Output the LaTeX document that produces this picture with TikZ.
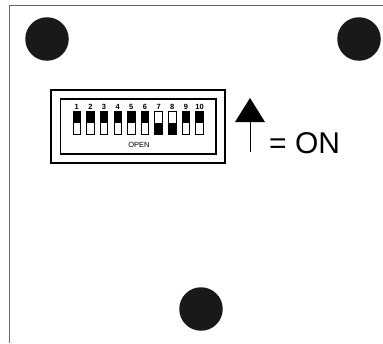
\documentclass[tikz,border=0pt]{standalone}
\usepackage{fontspec}
\setmainfont{Liberation Sans}
\tikzset{
  hole/.style={circle, fill=black!90, minimum size=43.5pt, inner sep=0pt},
  swbody/.style={rectangle, draw, thick, fill=white, minimum width=7.5pt, minimum height=23pt, inner sep=0pt},
  swnum/.style={font=\fontsize{7.5}{8}\selectfont\bfseries, inner sep=0pt},
}
\begin{document}
\begin{tikzpicture}[x=1pt, y=-1pt]
      \useasboundingbox (0,0) rectangle (383,343);
      % panel edge
      \coordinate (topend) at (383,5);
      \coordinate (corner) at (9.5,5);
      \coordinate (botend) at (9.5,343);
      \draw[gray!80!black, thick] (topend) -- (corner) -- (botend);
      \node[hole] (holeL) at (47,39) {};
      \node[hole] (holeR) at (359,39) {};
      \node[hole] (holeB) at (201,309) {};
      % switch block
      \draw[line width=1.4pt] (51,90) rectangle (225,163);
      \draw[line width=1.4pt] (60.5,99) rectangle (216,154);
      \foreach \n/\pos in {1/0,2/0,3/0,4/0,5/0,6/0,7/1,8/1,9/0,10/0} {
            \node[swbody] (sw\n) at ({76.7+(\n-1)*13.65},122.5) {};
            \node[swnum, above=0.5pt] (num\n) at (sw\n.north) {\n};
            \ifnum\pos=0
                  \fill (sw\n.north west) rectangle (sw\n.east);
            \else
                  \fill (sw\n.south west) rectangle (sw\n.east);
            \fi
      }
      \node[font=\fontsize{7.5}{8}\selectfont, inner sep=0pt] (open) at (139,144.5) {OPEN};
      % arrow
      \coordinate (arrtail) at (250,152);
      \coordinate (arrtip) at (250,98);
      \draw[thin] (arrtail) -- (250,120);
      \fill (arrtip) -- (265,122) -- (235,122) -- cycle;
      \node[font=\fontsize{30}{32}\selectfont, anchor=base west, inner sep=0pt] (on) at (269,153) {= ON};
\end{tikzpicture}
\end{document}
